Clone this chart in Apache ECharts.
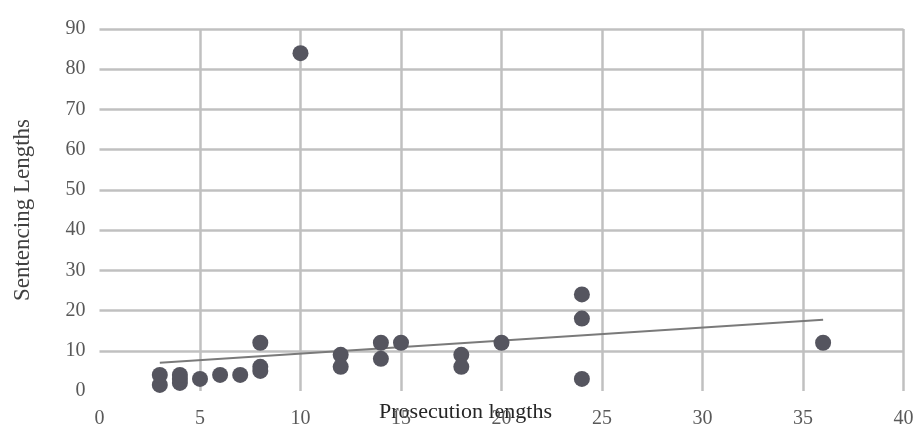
<!DOCTYPE html>
<html>
<head>
<meta charset="utf-8">
<script src="https://cdn.jsdelivr.net/npm/echarts@6/dist/echarts.min.js"></script>
<style>html,body{margin:0;padding:0;background:#fff}#c{width:918px;height:429px}</style>
</head>
<body>
<div id="c"></div>
<script>
// Prosecution lengths (x) and sentencing lengths (y)
const prosecution = [3, 3, 4, 4, 4, 5, 6, 7, 8, 8, 8, 10, 12, 12, 14, 14, 15, 18, 18, 20, 24, 24, 24, 36];
const sentencing  = [1.5, 4, 2, 3, 4, 3, 4, 4, 12, 6, 5, 84, 9, 6, 12, 8, 12, 9, 6, 12, 24, 18, 3, 12];
// Linear trend line endpoints
const trendX = [3, 36];
const trendY = [7.0, 17.7];
const xTicks = { min: 0, max: 40, step: 5 };
const yTicks = { min: 0, max: 90, step: 10 };
const xName = 'Prosecution lengths';
const yName = 'Sentencing Lengths';

const pts = prosecution.map((x, i) => [x, sentencing[i]]);
const trend = trendX.map((x, i) => [x, trendY[i]]);

const font = 'Liberation Serif';
const chart = echarts.init(document.getElementById('c'), null, { renderer: 'canvas' });
chart.setOption({
  animation: false,
  backgroundColor: '#ffffff',
  grid: { left: 99.5, right: 14.5, top: 29, bottom: 38, containLabel: false, outerBoundsMode: 'none' },
  xAxis: {
    type: 'value', min: xTicks.min, max: xTicks.max, interval: xTicks.step,
    axisLine: { show: false }, axisTick: { show: false },
    axisLabel: { fontFamily: font, fontSize: 20, color: '#595959', margin: 18 },
    splitLine: { show: true, showMinLine: false, lineStyle: { color: '#c0c0c0', width: 2.5 } },
    name: xName, nameLocation: 'middle', nameGap: 10, nameMoveOverlap: false,
    nameTextStyle: { fontFamily: font, fontSize: 22, color: '#262626', padding: [0, 72, 0, 0] }
  },
  yAxis: {
    type: 'value', min: yTicks.min, max: yTicks.max, interval: yTicks.step,
    axisLine: { show: false }, axisTick: { show: false },
    axisLabel: { fontFamily: font, fontSize: 20, color: '#595959', margin: 14 },
    splitLine: { show: true, showMinLine: false, lineStyle: { color: '#c0c0c0', width: 2.5 } },
    name: yName, nameLocation: 'middle', nameGap: 65, nameMoveOverlap: false,
    nameTextStyle: { fontFamily: font, fontSize: 23, color: '#404040' }
  },
  series: [
    {
      type: 'line', data: trend, showSymbol: false, symbol: 'none', z: 2,
      lineStyle: { color: '#7a7a7a', width: 2 }, silent: true
    },
    {
      type: 'scatter', data: pts, symbol: 'circle', symbolSize: 16, z: 3,
      itemStyle: { color: '#55555f', opacity: 1 }
    }
  ]
});
</script>
</body>
</html>
